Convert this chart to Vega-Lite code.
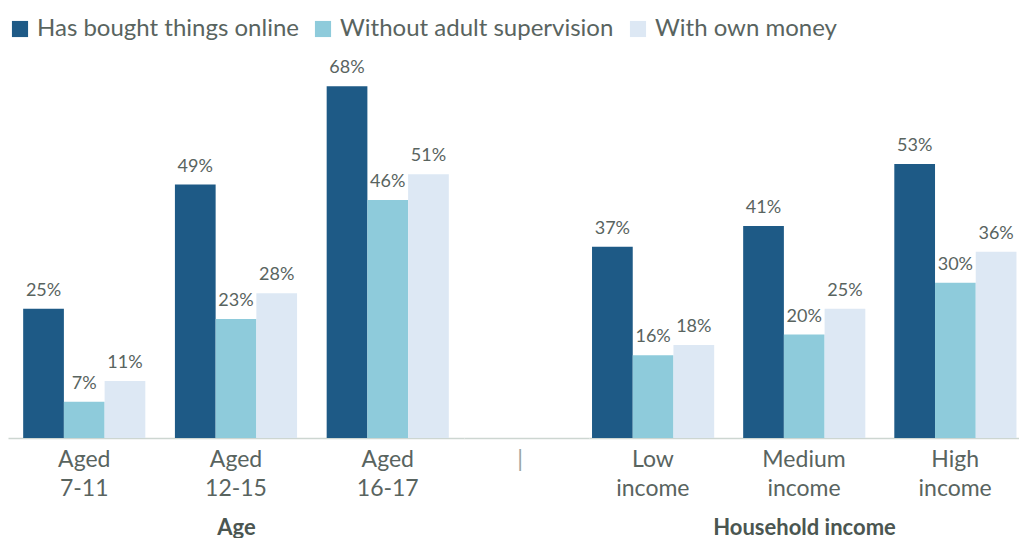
{
  "$schema": "https://vega.github.io/schema/vega-lite/v6.json",
  "padding": {"left": 8, "right": 0, "top": 17, "bottom": 0},
  "background": "white",
  "spacing": 0,
  "data": {"values": [
    {"group": "Age", "category": "Aged 7-11", "series": "Has bought things online", "value": 0.25},
    {"group": "Age", "category": "Aged 7-11", "series": "Without adult supervision", "value": 0.07},
    {"group": "Age", "category": "Aged 7-11", "series": "With own money", "value": 0.11},
    {"group": "Age", "category": "Aged 12-15", "series": "Has bought things online", "value": 0.49},
    {"group": "Age", "category": "Aged 12-15", "series": "Without adult supervision", "value": 0.23},
    {"group": "Age", "category": "Aged 12-15", "series": "With own money", "value": 0.28},
    {"group": "Age", "category": "Aged 16-17", "series": "Has bought things online", "value": 0.68},
    {"group": "Age", "category": "Aged 16-17", "series": "Without adult supervision", "value": 0.46},
    {"group": "Age", "category": "Aged 16-17", "series": "With own money", "value": 0.51},
    {"group": "Household income", "category": "Low income", "series": "Has bought things online", "value": 0.37},
    {"group": "Household income", "category": "Low income", "series": "Without adult supervision", "value": 0.16},
    {"group": "Household income", "category": "Low income", "series": "With own money", "value": 0.18},
    {"group": "Household income", "category": "Medium income", "series": "Has bought things online", "value": 0.41},
    {"group": "Household income", "category": "Medium income", "series": "Without adult supervision", "value": 0.20},
    {"group": "Household income", "category": "Medium income", "series": "With own money", "value": 0.25},
    {"group": "Household income", "category": "High income", "series": "Has bought things online", "value": 0.53},
    {"group": "Household income", "category": "High income", "series": "Without adult supervision", "value": 0.30},
    {"group": "Household income", "category": "High income", "series": "With own money", "value": 0.36}
  ]},
  "config": {
    "font": "Lato",
    "view": {"stroke": null},
    "axis": {
      "domainColor": "#cdd6d1",
      "domainWidth": 1.5,
      "ticks": false,
      "grid": false,
      "labelFont": "Lato",
      "labelFontSize": 23,
      "labelColor": "#59645f",
      "labelPadding": 10,
      "labelLineHeight": 29,
      "labelAngle": 0,
      "titleFont": "Lato",
      "titleFontSize": 22,
      "titleFontWeight": "bold",
      "titleColor": "#4b5651",
      "titlePadding": 17
    },
    "legend": {
      "orient": "top",
      "direction": "horizontal",
      "title": null,
      "symbolType": "square",
      "symbolSize": 260,
      "symbolStrokeWidth": 0,
      "labelFont": "Lato",
      "labelFontSize": 24,
      "labelColor": "#59645f",
      "labelOffset": 5,
      "labelLimit": 500,
      "columnPadding": 12,
      "offset": 18,
      "padding": 0
    }
  },
  "hconcat": [
    {
      "width": 456,
      "height": 362,
      "transform": [{"filter": "datum.group === 'Age'"}],
      "encoding": {
        "x": {"field": "category", "type": "nominal", "sort": ["Aged 7-11", "Aged 12-15", "Aged 16-17"],
              "scale": {"paddingInner": 0.195, "paddingOuter": 0.1},
              "title": "Age",
              "axis": {"labelExpr": "split(datum.label, ' ')"}},
        "xOffset": {"field": "series", "type": "nominal", "sort": ["Has bought things online", "Without adult supervision", "With own money"], "scale": {"paddingInner": 0, "paddingOuter": 0}},
        "y": {"field": "value", "type": "quantitative", "scale": {"domain": [0, 0.7]}, "axis": null}
      },
      "layer": [
        {
          "mark": {"type": "bar"},
          "encoding": {
            "color": {"field": "series", "type": "nominal",
                      "sort": ["Has bought things online", "Without adult supervision", "With own money"],
                      "scale": {"domain": ["Has bought things online", "Without adult supervision", "With own money"], "range": ["#1e5a86", "#8ecbdb", "#dde8f4"]}}
          }
        },
        {
          "mark": {"type": "text", "baseline": "alphabetic", "dy": -13, "fontSize": 18, "color": "#59645f", "font": "Lato"},
          "encoding": {"text": {"field": "value", "type": "quantitative", "format": ".0%"}}
        }
      ]
    },
    {
      "width": 125,
      "height": 362,
      "data": {"values": [{"c": "|"}]},
      "mark": {"type": "point", "opacity": 0},
      "encoding": {
        "x": {"field": "c", "type": "nominal", "title": null,
              "axis": {"labelColor": "#9aa39f", "labelOffset": -7}}
      }
    },
    {
      "width": 430,
      "height": 362,
      "transform": [{"filter": "datum.group === 'Household income'"}],
      "encoding": {
        "x": {"field": "category", "type": "nominal", "sort": ["Low income", "Medium income", "High income"],
              "scale": {"paddingInner": 0.195, "paddingOuter": 0.02},
              "title": "Household income",
              "axis": {"labelExpr": "split(datum.label, ' ')"}},
        "xOffset": {"field": "series", "type": "nominal", "sort": ["Has bought things online", "Without adult supervision", "With own money"], "scale": {"paddingInner": 0, "paddingOuter": 0}},
        "y": {"field": "value", "type": "quantitative", "scale": {"domain": [0, 0.7]}, "axis": null}
      },
      "layer": [
        {
          "mark": {"type": "bar"},
          "encoding": {
            "color": {"field": "series", "type": "nominal",
                      "sort": ["Has bought things online", "Without adult supervision", "With own money"],
                      "scale": {"domain": ["Has bought things online", "Without adult supervision", "With own money"], "range": ["#1e5a86", "#8ecbdb", "#dde8f4"]}}
          }
        },
        {
          "mark": {"type": "text", "baseline": "alphabetic", "dy": -13, "fontSize": 18, "color": "#59645f", "font": "Lato"},
          "encoding": {"text": {"field": "value", "type": "quantitative", "format": ".0%"}}
        }
      ]
    }
  ]
}
